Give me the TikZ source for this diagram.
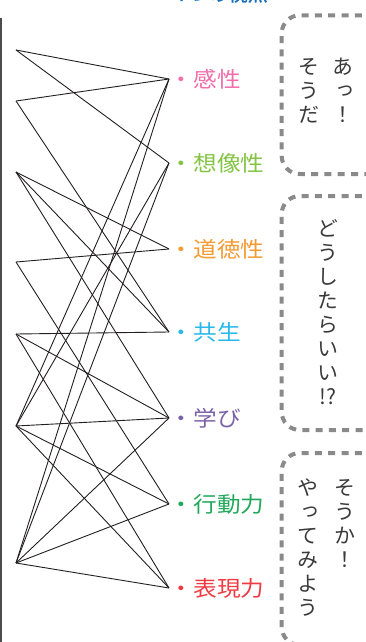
\documentclass[tikz,border=0pt]{standalone}
\usepackage{fontspec}
\newfontfamily\jpv{Noto Sans CJK JP}[RawFeature=+vert]
\newfontfamily\jpw{Noto Sans CJK JP}[FakeStretch=1.1]
\newfontfamily\jpb{Noto Sans CJK JP}[FakeBold=1.5]
\definecolor{cKansei}{HTML}{F06EAA}
\definecolor{cSozo}{HTML}{84C444}
\definecolor{cDotoku}{HTML}{F39A33}
\definecolor{cKyosei}{HTML}{29B8EA}
\definecolor{cManabi}{HTML}{7B62A8}
\definecolor{cKodo}{HTML}{21A85C}
\definecolor{cHyogen}{HTML}{EE3A43}
\definecolor{cTitle}{HTML}{1C6FBE}
\definecolor{cLine}{HTML}{231F20}
\definecolor{cDash}{HTML}{8A8A8A}
\definecolor{cVText}{HTML}{3A3A3A}
\begin{document}
\begin{tikzpicture}[x=1pt,y=-1pt,
  lbl/.style={anchor=west,inner sep=0pt,font={\jpw\fontsize{21.5}{24}\selectfont}},
  conn/.style={draw=cLine,line width=0.9pt},
  bubble/.style={draw=cDash,line width=4pt,dash pattern=on 7pt off 6.3pt,rounded corners=18pt,inner sep=0pt},
  vtext/.style={anchor=north,inner sep=0pt,align=center,text=cVText,font={\jpv\fontsize{21}{24}\selectfont}}]
\useasboundingbox (0,0) rectangle (366,642);
\clip (0,0) rectangle (366,642);
% title fragment
\node[anchor=base east,inner sep=0pt,text=cTitle,font={\jpb\fontsize{20}{24}\selectfont}] (title) at (268,1) {7つの視点};
% left rule
\coordinate (ruleTop) at (1,18);
\coordinate (ruleBot) at (1,642);
\draw[draw=gray!60!black,line width=1.4pt] (ruleTop) -- (ruleBot);
% left points
\coordinate (L1) at (16,50);
\coordinate (L2) at (16,101);
\coordinate (L3) at (16,172);
\coordinate (L4) at (16,262);
\coordinate (L5) at (16,334);
\coordinate (L6) at (16,426);
\coordinate (L7) at (16,563);
% right points
\coordinate (R1) at (169,79);
\coordinate (R2) at (169,163);
\coordinate (R3) at (169,249);
\coordinate (R4) at (169,332);
\coordinate (R5) at (169,418);
\coordinate (R6) at (169,504);
\coordinate (R7) at (169,588);
% connectors
\foreach \a/\b in {L1/R1,L1/R2,L2/R1,L2/R4,L3/R3,L3/R4,L3/R5,L4/R3,L4/R6,
  L5/R4,L5/R5,L5/R7,L6/R1,L6/R2,L6/R5,L6/R6,L6/R7,L7/R1,L7/R2,L7/R5,L7/R6,L7/R7}
  \draw[conn] (\a) -- (\b);
% labels
\node[lbl,text=cKansei] (t1) at (169.5,79) {・感性};
\node[lbl,text=cSozo] (t2) at (169.5,163) {・想像性};
\node[lbl,text=cDotoku] (t3) at (169.5,249) {・道徳性};
\node[lbl,text=cKyosei] (t4) at (169.5,332) {・共生};
\node[lbl,text=cManabi] (t5) at (169.5,418) {・学び};
\node[lbl,text=cKodo] (t6) at (169.5,504) {・行動力};
\node[lbl,text=cHyogen] (t7) at (169.5,588) {・表現力};
% speech boxes
\node[bubble,minimum width=138pt,minimum height=158.7pt] (box1) at (350.7,94.65) {};
\node[bubble,minimum width=138pt,minimum height=234pt] (box2) at (350.7,313) {};
\node[bubble,minimum width=138pt,minimum height=192pt] (box3) at (350.7,549) {};
% vertical texts
\node[vtext] (b1a) at (343,58) {あ\\っ\\！};
\node[vtext] (b1b) at (309,58) {そ\\う\\だ};
\node[vtext] (b2a) at (328,219) {ど\\う\\し\\た\\ら\\い\\い\\!?};
\node[vtext] (b3a) at (345,479) {そ\\う\\か\\！};
\node[vtext] (b3b) at (308,479) {や\\っ\\て\\み\\よ\\う};
\end{tikzpicture}
\end{document}
